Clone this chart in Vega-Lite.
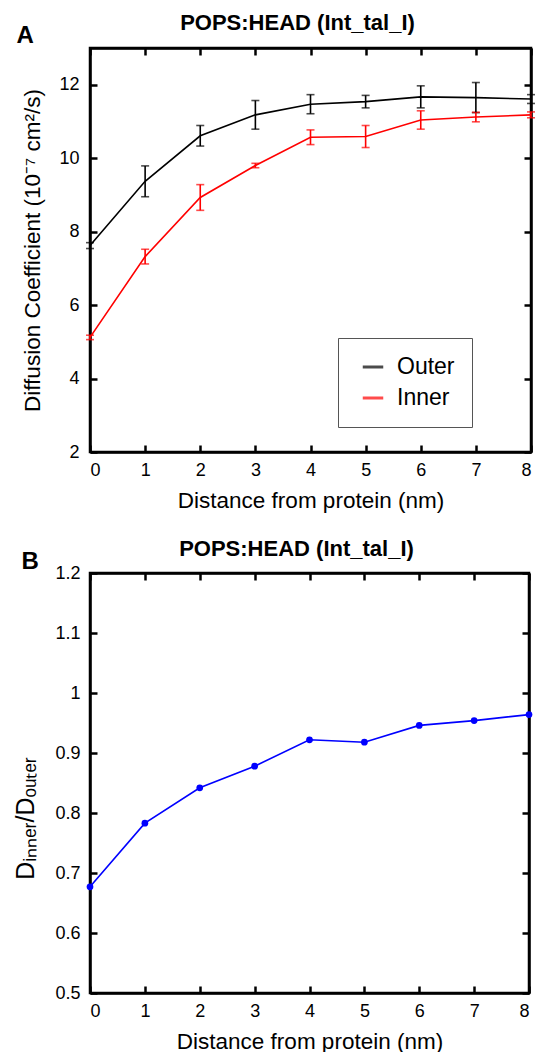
{
  "$schema": "https://vega.github.io/schema/vega-lite/v6.json",
  "padding": {"left": 12, "top": 10, "right": 2, "bottom": 2},
  "bounds": "flush",
  "spacing": 121,
  "config": {
    "font": "Liberation Sans",
    "view": {"stroke": "black", "strokeWidth": 2.5},
    "axis": {
      "grid": false,
      "domainColor": "black",
      "domainWidth": 2.5,
      "tickColor": "black",
      "tickWidth": 2.5,
      "tickSize": -7,
      "labelFont": "Liberation Sans",
      "labelFontSize": 18,
      "labelColor": "black",
      "titleFont": "Liberation Sans",
      "titleFontSize": 22.5,
      "titleFontWeight": "normal",
      "titleColor": "black"
    },
    "title": {"font": "Liberation Sans", "fontSize": 22, "fontWeight": "bold", "color": "black", "offset": -12, "dx": -13},
    "legend": {
      "symbolType": "stroke",
      "symbolStrokeWidth": 3,
      "symbolSize": 420,
      "labelFontSize": 23,
      "labelFont": "Liberation Sans",
      "labelColor": "black",
      "strokeColor": "#555555",
      "fillColor": "white",
      "padding": 17,
      "rowPadding": 7,
      "labelOffset": 12,
      "symbolOffset": 6
    }
  },
  "datasets": {
    "diff": [
      {"dist": 0, "series": "Outer", "D": 7.62, "err": 0.08},
      {"dist": 1, "series": "Outer", "D": 9.37, "err": 0.42},
      {"dist": 2, "series": "Outer", "D": 10.61, "err": 0.28},
      {"dist": 3, "series": "Outer", "D": 11.18, "err": 0.39},
      {"dist": 4, "series": "Outer", "D": 11.47, "err": 0.26},
      {"dist": 5, "series": "Outer", "D": 11.54, "err": 0.17},
      {"dist": 6, "series": "Outer", "D": 11.67, "err": 0.3},
      {"dist": 7, "series": "Outer", "D": 11.65, "err": 0.41},
      {"dist": 8, "series": "Outer", "D": 11.61, "err": 0.12},
      {"dist": 0, "series": "Inner", "D": 5.12, "err": 0.06},
      {"dist": 1, "series": "Inner", "D": 7.32, "err": 0.2},
      {"dist": 2, "series": "Inner", "D": 8.93, "err": 0.35},
      {"dist": 3, "series": "Inner", "D": 9.8, "err": 0.06},
      {"dist": 4, "series": "Inner", "D": 10.57, "err": 0.2},
      {"dist": 5, "series": "Inner", "D": 10.59, "err": 0.3},
      {"dist": 6, "series": "Inner", "D": 11.04, "err": 0.25},
      {"dist": 7, "series": "Inner", "D": 11.12, "err": 0.13},
      {"dist": 8, "series": "Inner", "D": 11.18, "err": 0.08}
    ],
    "ratio": [
      {"dist": 0, "ratio": 0.677},
      {"dist": 1, "ratio": 0.783},
      {"dist": 2, "ratio": 0.842},
      {"dist": 3, "ratio": 0.878},
      {"dist": 4, "ratio": 0.922},
      {"dist": 5, "ratio": 0.918},
      {"dist": 6, "ratio": 0.946},
      {"dist": 7, "ratio": 0.954},
      {"dist": 8, "ratio": 0.964}
    ]
  },
  "vconcat": [
    {
      "title": {"text": "POPS:HEAD (Int_tal_I)"},
      "width": 441,
      "height": 404,
      "data": {"name": "diff"},
      "layer": [
        {
          "mark": {"type": "line", "strokeWidth": 1.6},
          "encoding": {
            "x": {"field": "dist", "type": "quantitative", "scale": {"domain": [0, 8], "nice": false},
                  "axis": {"values": [0,1,2,3,4,5,6,7,8], "title": "Distance from protein (nm)", "labelPadding": 16, "titlePadding": 10}},
            "y": {"field": "D", "type": "quantitative", "scale": {"domain": [2, 13], "nice": false, "zero": false},
                  "axis": {"values": [2,4,6,8,10,12], "title": "Diffusion Coefficient (10⁻⁷ cm²/s)", "labelPadding": 18, "titlePadding": 14}},
            "color": {"field": "series", "type": "nominal",
                      "scale": {"domain": ["Outer", "Inner"], "range": ["#000000", "#ff0000"]},
                      "legend": {"title": null, "orient": "none", "legendX": 248, "legendY": 290}}
          }
        },
        {
          "mark": {"type": "errorbar", "ticks": {"size": 8}, "thickness": 1.6},
          "encoding": {
            "x": {"field": "dist", "type": "quantitative", "axis": null},
            "y": {"field": "D", "type": "quantitative", "axis": null},
            "yError": {"field": "err"},
            "color": {"field": "series", "type": "nominal"}
          }
        },
        {
          "mark": {"type": "point", "opacity": 0},
          "encoding": {
            "x": {"field": "dist", "type": "quantitative", "scale": {"domain": [0, 8], "nice": false},
                  "axis": {"orient": "top", "values": [0,1,2,3,4,5,6,7,8], "labels": false, "title": "A",
                           "titleFontSize": 24, "titleFontWeight": "bold", "titleAlign": "left", "titleBaseline": "alphabetic",
                           "titleAnchor": "start", "titleX": -74, "titleY": -6, "titleAngle": 0}},
            "y": {"field": "D", "type": "quantitative", "scale": {"domain": [2, 13], "nice": false, "zero": false},
                  "axis": {"orient": "right", "values": [2,4,6,8,10,12], "labels": false, "title": null}}
          }
        }
      ],
      "resolve": {"axis": {"x": "independent", "y": "independent"}}
    },
    {
      "title": {"text": "POPS:HEAD (Int_tal_I)"},
      "width": 439,
      "height": 420,
      "data": {"name": "ratio"},
      "layer": [
        {
          "mark": {"type": "line", "color": "#0000ff", "strokeWidth": 1.6},
          "encoding": {
            "x": {"field": "dist", "type": "quantitative", "scale": {"domain": [0, 8], "nice": false},
                  "axis": {"values": [0,1,2,3,4,5,6,7,8], "title": "Distance from protein (nm)", "labelPadding": 16, "titlePadding": 10}},
            "y": {"field": "ratio", "type": "quantitative", "scale": {"domain": [0.5, 1.2], "nice": false, "zero": false},
                  "axis": {"values": [0.5,0.6,0.7,0.8,0.9,1,1.1,1.2], "format": "~g", "title": "Dᵢₙₙₑᵣ/Dₒᵤₜₑᵣ", "titleFontSize": 25, "titleY": 245, "labelPadding": 17, "titlePadding": 16}}
          }
        },
        {
          "mark": {"type": "point", "filled": true, "color": "#0000ff", "size": 45, "opacity": 1},
          "encoding": {
            "x": {"field": "dist", "type": "quantitative", "axis": null},
            "y": {"field": "ratio", "type": "quantitative", "axis": null}
          }
        },
        {
          "mark": {"type": "point", "opacity": 0},
          "encoding": {
            "x": {"field": "dist", "type": "quantitative", "scale": {"domain": [0, 8], "nice": false},
                  "axis": {"orient": "top", "values": [0,1,2,3,4,5,6,7,8], "labels": false, "title": "B",
                           "titleFontSize": 24, "titleFontWeight": "bold", "titleAlign": "left", "titleBaseline": "alphabetic",
                           "titleAnchor": "start", "titleX": -69, "titleY": -5, "titleAngle": 0}},
            "y": {"field": "ratio", "type": "quantitative", "scale": {"domain": [0.5, 1.2], "nice": false, "zero": false},
                  "axis": {"orient": "right", "values": [0.5,0.6,0.7,0.8,0.9,1,1.1,1.2], "labels": false, "title": null}}
          }
        }
      ],
      "resolve": {"axis": {"x": "independent", "y": "independent"}}
    }
  ]
}
